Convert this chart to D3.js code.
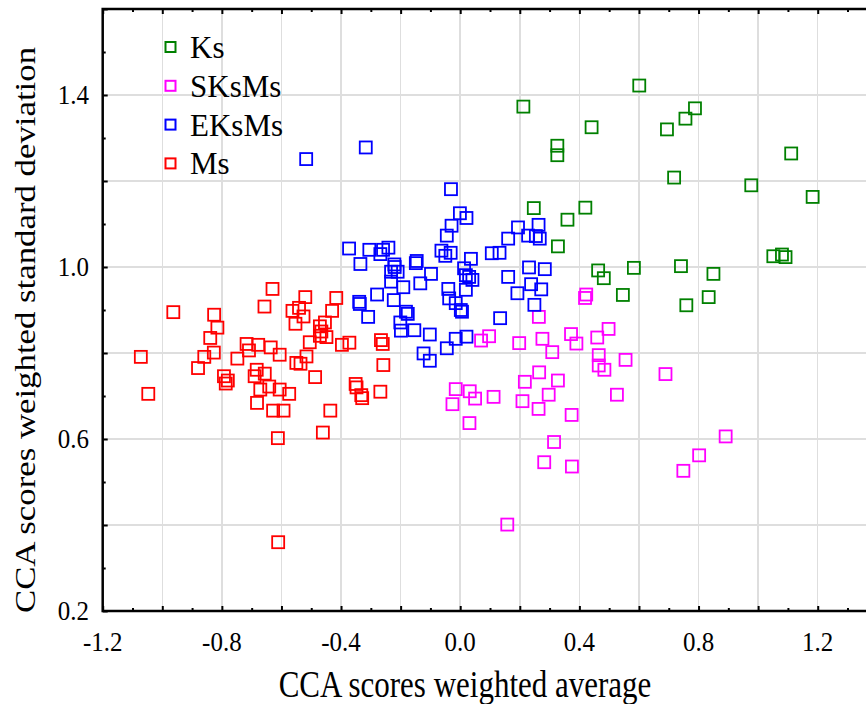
<!DOCTYPE html>
<html lang="en">
<head>
<meta charset="UTF-8">
<script src="https://d3js.org/d3.v7.min.js"></script>
<title>CCA scores weighted average vs standard deviation</title>
<style>
  body { margin: 0; background: #fff; overflow: hidden; }
  svg { display: block; font-family: "Liberation Serif", "Times New Roman", serif; }
  .grid line { stroke: #dedede; stroke-width: 1.5; shape-rendering: crispEdges; }
</style>
</head>
<body>
<script>
  // Data: [weighted average, weighted standard deviation]
  const ks = [
    [0.601,1.422],[0.212,1.373],[0.441,1.325],[0.694,1.320],[0.756,1.345],[0.788,1.369],
    [0.326,1.282],[0.326,1.260],[1.111,1.264],[0.718,1.208],[0.977,1.190],[1.183,1.163],
    [0.247,1.137],[0.420,1.138],[0.360,1.110],[0.328,1.048],[1.051,1.025],[1.080,1.029],
    [1.092,1.023],[0.463,0.992],[0.482,0.974],[0.583,0.998],[0.741,1.002],[0.850,0.984],
    [0.546,0.935],[0.759,0.911],[0.834,0.930]
  ];
  const sksms = [
    [0.423,0.936],[0.419,0.928],[0.264,0.884],[0.070,0.829],[0.097,0.839],[0.198,0.823],
    [0.276,0.833],[0.309,0.802],[0.372,0.844],[0.390,0.822],[0.460,0.836],[0.498,0.856],
    [0.465,0.795],[0.465,0.771],[0.484,0.761],[0.555,0.784],[0.689,0.751],[-0.015,0.716],
    [0.032,0.711],[0.050,0.694],[-0.026,0.681],[0.112,0.698],[0.031,0.637],[0.217,0.733],
    [0.265,0.755],[0.328,0.736],[0.209,0.688],[0.297,0.703],[0.263,0.670],[0.374,0.656],
    [0.526,0.703],[0.315,0.593],[0.282,0.546],[0.375,0.536],[0.891,0.606],[0.802,0.562],
    [0.749,0.526],[0.158,0.401]
  ];
  const eksms = [
    [-0.517,1.251],[-0.317,1.278],[-0.031,1.181],[-0.001,1.125],[0.021,1.114],[-0.029,1.096],
    [-0.045,1.073],[-0.063,1.038],[-0.050,1.026],[-0.032,1.033],[0.106,1.032],[0.132,1.033],
    [0.194,1.092],[0.161,1.066],[0.228,1.073],[0.263,1.098],[0.254,1.072],[0.267,1.066],
    [-0.373,1.043],[-0.305,1.040],[-0.335,1.007],[-0.268,1.030],[-0.241,1.045],[-0.221,1.006],
    [-0.232,0.989],[-0.210,0.989],[-0.232,0.966],[-0.146,1.014],[-0.149,1.009],[-0.098,0.984],
    [-0.134,0.962],[-0.191,0.953],[-0.279,0.936],[-0.339,0.919],[-0.337,0.914],[-0.309,0.884],
    [-0.223,0.923],[-0.182,0.896],[-0.176,0.891],[-0.201,0.871],[-0.199,0.852],[-0.154,0.853],
    [-0.102,0.843],[-0.123,0.799],[-0.102,0.782],[-0.045,0.811],[-0.015,0.833],[0.021,0.838],
    [-0.040,0.949],[-0.037,0.927],[-0.015,0.916],[0.002,0.900],[0.006,0.896],[0.019,0.947],
    [0.013,0.997],[0.036,1.019],[0.019,0.981],[0.041,0.970],[0.030,0.977],[0.134,0.881],
    [0.161,0.977],[0.192,0.939],[0.231,0.999],[0.284,0.995],[0.238,0.960],[0.272,0.948],
    [0.249,0.912],[-0.259,1.040],[-0.220,1.000]
  ];
  const ms = [
    [-0.963,0.895],[-1.072,0.791],[-1.047,0.705],[-0.826,0.889],[-0.815,0.859],[-0.839,0.835],
    [-0.827,0.801],[-0.859,0.791],[-0.880,0.765],[-0.793,0.746],[-0.780,0.736],[-0.787,0.729],
    [-0.748,0.787],[-0.717,0.821],[-0.709,0.806],[-0.678,0.819],[-0.636,0.813],[-0.606,0.796],
    [-0.683,0.761],[-0.656,0.752],[-0.690,0.746],[-0.671,0.715],[-0.641,0.722],[-0.606,0.715],
    [-0.574,0.705],[-0.682,0.684],[-0.628,0.666],[-0.593,0.666],[-0.612,0.602],[-0.630,0.949],
    [-0.657,0.908],[-0.520,0.930],[-0.541,0.905],[-0.563,0.898],[-0.526,0.885],[-0.553,0.868],
    [-0.471,0.862],[-0.454,0.871],[-0.466,0.850],[-0.471,0.840],[-0.449,0.837],[-0.505,0.825],
    [-0.430,0.898],[-0.416,0.928],[-0.397,0.819],[-0.372,0.824],[-0.516,0.792],[-0.550,0.777],
    [-0.536,0.775],[-0.487,0.744],[-0.436,0.666],[-0.461,0.615],[-0.611,0.360],[-0.266,0.830],
    [-0.260,0.821],[-0.258,0.772],[-0.351,0.728],[-0.348,0.720],[-0.332,0.702],[-0.329,0.695],
    [-0.268,0.710]
  ];

  const seriesNames = ["Ks", "SKsMs", "EKsMs", "Ms"];
  const seriesColors = ["#008000", "#ff00ff", "#0000ff", "#ff0000"];
  const seriesData = [ks, sksms, eksms, ms];

  const xTicks = [-1.2, -0.8, -0.4, 0.0, 0.4, 0.8, 1.2];
  const yTicks = [0.2, 0.6, 1.0, 1.4];

  const width = 866, height = 704;
  const svg = d3.select("body").append("svg")
    .attr("width", width)
    .attr("height", height);

  const x = d3.scaleLinear().domain([-1.2, 1.4]).range([102.7, 877.3]);
  const y = d3.scaleLinear().domain([0.2, 1.6]).range([611, 9]);

  const step = (a, b, s) => d3.range(Math.round((b - a) / s) + 1).map(i => +(a + i * s).toFixed(2));

  // grid every 0.2
  const grid = svg.append("g").attr("class", "grid");
  grid.selectAll(".gx").data(step(-1.0, 1.4, 0.2)).enter().append("line")
    .attr("x1", d => x(d)).attr("x2", d => x(d))
    .attr("y1", y(0.2)).attr("y2", y(1.6));
  grid.selectAll(".gy").data(step(0.4, 1.4, 0.2)).enter().append("line")
    .attr("x1", x(-1.2)).attr("x2", width)
    .attr("y1", d => y(d)).attr("y2", d => y(d));

  // points
  seriesData.forEach((pts, i) => {
    svg.append("g")
      .selectAll("rect")
      .data(pts)
      .enter().append("rect")
      .attr("x", d => x(d[0]) - 6)
      .attr("y", d => y(d[1]) - 6)
      .attr("width", 12)
      .attr("height", 12)
      .attr("fill", "none")
      .attr("stroke", seriesColors[i])
      .attr("stroke-width", 1.8);
  });

  // axes: major ticks every 0.2, minor every 0.1, all pointing inward
  const noLabel = () => "";
  const bottomMajor = d3.axisBottom(x).tickValues(step(-1.2, 1.4, 0.2)).tickSize(-5).tickFormat(noLabel);
  const bottomMinor = d3.axisBottom(x).tickValues(step(-1.1, 1.3, 0.2)).tickSize(-3).tickFormat(noLabel);
  const topMajor = d3.axisTop(x).tickValues(step(-1.2, 1.4, 0.2)).tickSize(-5).tickFormat(noLabel);
  const topMinor = d3.axisTop(x).tickValues(step(-1.1, 1.3, 0.2)).tickSize(-3).tickFormat(noLabel);
  const leftMajor = d3.axisLeft(y).tickValues(step(0.2, 1.6, 0.2)).tickSize(-5).tickFormat(noLabel);
  const leftMinor = d3.axisLeft(y).tickValues(step(0.3, 1.5, 0.2)).tickSize(-3).tickFormat(noLabel);

  [[bottomMajor, y(0.2)], [bottomMinor, y(0.2)], [topMajor, y(1.6)], [topMinor, y(1.6)]].forEach(([ax, ty]) => {
    const g = svg.append("g").attr("transform", `translate(0,${ty})`).call(ax);
    g.select(".domain").remove();
    g.selectAll(".tick line").attr("stroke", "#000").attr("stroke-width", 2);
  });
  [leftMajor, leftMinor].forEach(ax => {
    const g = svg.append("g").attr("transform", `translate(${x(-1.2)},0)`).call(ax);
    g.select(".domain").remove();
    g.selectAll(".tick line").attr("stroke", "#000").attr("stroke-width", 2);
  });

  // frame lines (left, bottom, top)
  svg.append("path")
    .attr("d", `M${width},${y(1.6)}H${x(-1.2)}V${y(0.2)}H${width}`)
    .attr("fill", "none")
    .attr("stroke", "#000")
    .attr("stroke-width", 2.5);

  // tick labels
  svg.append("g").selectAll("text")
    .data(xTicks).enter().append("text")
    .attr("transform", d => `translate(${x(d)},651) scale(1,1.12)`)
    .attr("text-anchor", "middle")
    .attr("font-size", 25)
    .text(d => d3.format(".1f")(d).replace("−", "-"));

  svg.append("g").selectAll("text")
    .data(yTicks).enter().append("text")
    .attr("transform", d => `translate(89,${y(d) + 9}) scale(1,1.12)`)
    .attr("text-anchor", "end")
    .attr("font-size", 25)
    .text(d => d3.format(".1f")(d));

  // axis titles
  svg.append("text")
    .attr("transform", "translate(465,697) scale(1,1.2)")
    .attr("text-anchor", "middle")
    .attr("font-size", 31)
    .text("CCA scores weighted average");

  svg.append("text")
    .attr("transform", "translate(35,330) rotate(-90) scale(1.2,1)")
    .attr("text-anchor", "middle")
    .attr("font-size", 29)
    .text("CCA scores weighted standard deviation");

  // legend
  const legend = svg.append("g");
  seriesNames.forEach((name, i) => {
    const cy = 47 + i * 38.8;
    legend.append("rect")
      .attr("x", 165.5).attr("y", cy - 5)
      .attr("width", 10).attr("height", 10)
      .attr("fill", "none")
      .attr("stroke", seriesColors[i])
      .attr("stroke-width", 2);
    legend.append("text")
      .attr("x", 190).attr("y", cy + 11)
      .attr("font-size", 31)
      .text(name);
  });
</script>
</body>
</html>
